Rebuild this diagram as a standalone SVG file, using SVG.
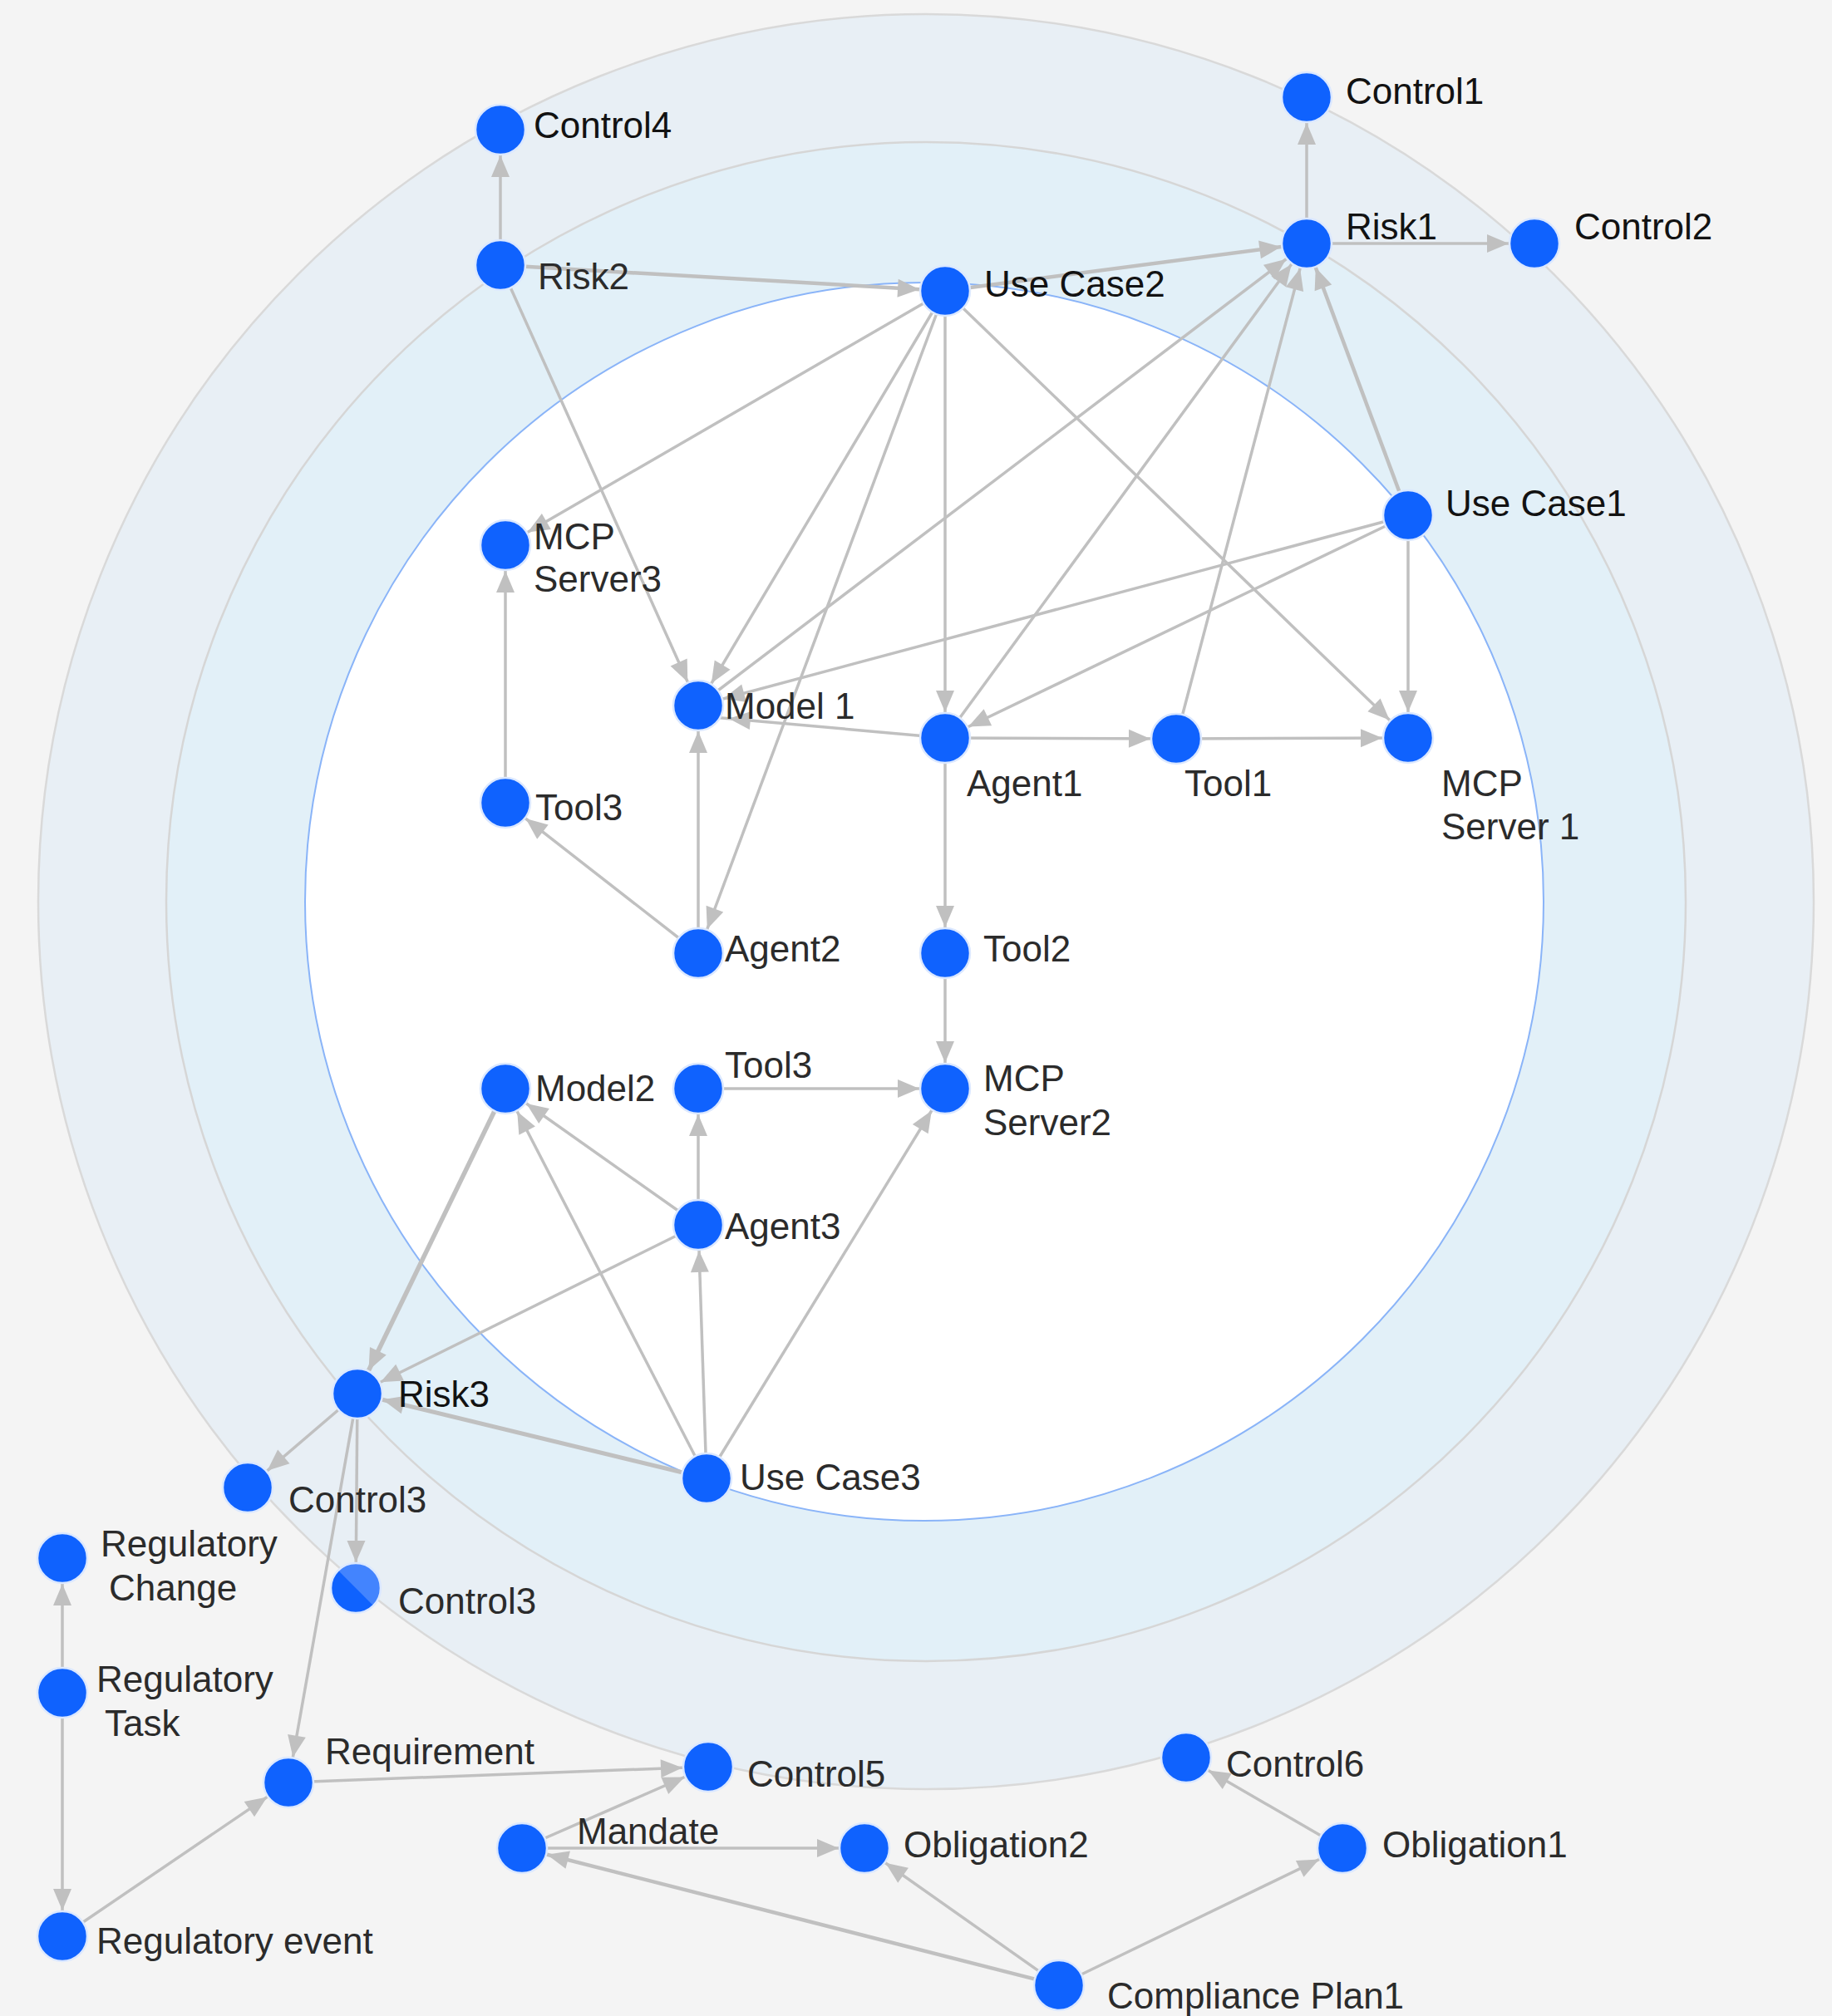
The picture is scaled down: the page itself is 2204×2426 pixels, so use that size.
<svg xmlns="http://www.w3.org/2000/svg" width="2204" height="2426" viewBox="0 0 2204 2426">
<style>
.n{fill:#0f62fe;stroke:#dbe8ff;stroke-width:2.5}
.t{font-family:"Liberation Sans",Arial,sans-serif;font-size:44px;fill:#2b2b2b}
.d{fill:#121212}
.e line{stroke:#c0c0c0;stroke-width:3.5;marker-end:url(#ah)}
</style>
<defs>
<marker id="ah" markerUnits="userSpaceOnUse" markerWidth="30" markerHeight="24" refX="57" refY="11" orient="auto" overflow="visible">
<path d="M0,0 L26,11 L0,22 Z" fill="#c0c0c0"/>
</marker>
</defs>
<rect width="2204" height="2426" fill="#f4f4f4"/>
<g id="rings">
<circle cx="1114" cy="1085" r="1068" fill="#e8eff5" stroke="#d9d9d9" stroke-width="2.5"/>
<circle cx="1114" cy="1085" r="914" fill="#e2f0f8" stroke="#d6d6d6" stroke-width="2.5"/>
<circle cx="1112" cy="1085" r="745" fill="#ffffff" stroke="#8ab4f8" stroke-width="2"/>
</g>
<g id="connectors" class="e">
<line x1="602" y1="319" x2="602" y2="156"/>
<line x1="602" y1="319" x2="1137" y2="350" style="stroke-width:4.5"/>
<line x1="602" y1="319" x2="840" y2="849"/>
<line x1="1137" y1="350" x2="1572" y2="293" style="stroke-width:4.5"/>
<line x1="1572" y1="293" x2="1572" y2="117"/>
<line x1="1572" y1="293" x2="1846" y2="293"/>
<line x1="1137" y1="350" x2="608" y2="656"/>
<line x1="1137" y1="350" x2="840" y2="849"/>
<line x1="1137" y1="350" x2="840" y2="1147"/>
<line x1="1137" y1="350" x2="1137" y2="888"/>
<line x1="1137" y1="350" x2="1694" y2="888"/>
<line x1="840" y1="849" x2="1572" y2="293"/>
<line x1="1694" y1="620" x2="840" y2="849"/>
<line x1="1694" y1="620" x2="1137" y2="888"/>
<line x1="1694" y1="620" x2="1694" y2="888"/>
<line x1="1694" y1="620" x2="1572" y2="293" style="stroke-width:4.5"/>
<line x1="1137" y1="888" x2="1572" y2="293"/>
<line x1="1415" y1="889" x2="1572" y2="293"/>
<line x1="1137" y1="888" x2="846" y2="862"/>
<line x1="1137" y1="888" x2="1415" y2="889"/>
<line x1="1415" y1="889" x2="1694" y2="888"/>
<line x1="1137" y1="888" x2="1137" y2="1147"/>
<line x1="1137" y1="1147" x2="1137" y2="1310"/>
<line x1="608" y1="966" x2="608" y2="656"/>
<line x1="840" y1="1147" x2="608" y2="966"/>
<line x1="840" y1="1147" x2="840" y2="849"/>
<line x1="840" y1="1310" x2="1137" y2="1310"/>
<line x1="840" y1="1474" x2="840" y2="1310"/>
<line x1="840" y1="1474" x2="608" y2="1310"/>
<line x1="840" y1="1474" x2="430" y2="1677"/>
<line x1="608" y1="1310" x2="430" y2="1677" style="stroke-width:5.5"/>
<line x1="850" y1="1779" x2="608" y2="1310"/>
<line x1="850" y1="1779" x2="840" y2="1474"/>
<line x1="850" y1="1779" x2="1137" y2="1310"/>
<line x1="850" y1="1779" x2="430" y2="1677" style="stroke-width:5"/>
<line x1="430" y1="1677" x2="298" y2="1790"/>
<line x1="430" y1="1677" x2="428" y2="1911"/>
<line x1="430" y1="1677" x2="347" y2="2145"/>
<line x1="75" y1="2037" x2="75" y2="1875"/>
<line x1="75" y1="2037" x2="75" y2="2330"/>
<line x1="75" y1="2330" x2="347" y2="2145"/>
<line x1="347" y1="2145" x2="852" y2="2126"/>
<line x1="628" y1="2224" x2="852" y2="2126"/>
<line x1="628" y1="2224" x2="1040" y2="2224"/>
<line x1="1274" y1="2389" x2="628" y2="2224" style="stroke-width:4.5"/>
<line x1="1274" y1="2389" x2="1040" y2="2224"/>
<line x1="1274" y1="2389" x2="1615" y2="2224"/>
<line x1="1615" y1="2224" x2="1427" y2="2115"/>
</g>
<g id="control4"><circle class="n" cx="602" cy="156" r="30"/><text class="t d" x="642" y="166">Control4</text></g>
<g id="risk2"><circle class="n" cx="602" cy="319" r="30"/><text class="t" x="647" y="348">Risk2</text></g>
<g id="usecase2"><circle class="n" cx="1137" cy="350" r="30"/><text class="t d" x="1184" y="357">Use Case2</text></g>
<g id="control1"><circle class="n" cx="1572" cy="117" r="30"/><text class="t d" x="1619" y="125">Control1</text></g>
<g id="risk1"><circle class="n" cx="1572" cy="293" r="30"/><text class="t d" x="1619" y="288">Risk1</text></g>
<g id="control2"><circle class="n" cx="1846" cy="293" r="30"/><text class="t d" x="1894" y="288">Control2</text></g>
<g id="usecase1"><circle class="n" cx="1694" cy="620" r="30"/><text class="t d" x="1739" y="621">Use Case1</text></g>
<g id="mcpserver3"><circle class="n" cx="608" cy="656" r="30"/><text class="t" x="642" y="661">MCP</text><text class="t" x="642" y="712">Server3</text></g>
<g id="model1"><circle class="n" cx="840" cy="849" r="30"/><text class="t" x="872" y="865">Model 1</text></g>
<g id="agent1"><circle class="n" cx="1137" cy="888" r="30"/><text class="t" x="1163" y="958">Agent1</text></g>
<g id="tool1"><circle class="n" cx="1415" cy="889" r="30"/><text class="t" x="1425" y="958">Tool1</text></g>
<g id="mcpserver1"><circle class="n" cx="1694" cy="888" r="30"/><text class="t" x="1734" y="958">MCP</text><text class="t" x="1734" y="1010">Server 1</text></g>
<g id="tool3a"><circle class="n" cx="608" cy="966" r="30"/><text class="t" x="644" y="987">Tool3</text></g>
<g id="agent2"><circle class="n" cx="840" cy="1147" r="30"/><text class="t" x="872" y="1157">Agent2</text></g>
<g id="tool2"><circle class="n" cx="1137" cy="1147" r="30"/><text class="t" x="1183" y="1157">Tool2</text></g>
<g id="model2"><circle class="n" cx="608" cy="1310" r="30"/><text class="t" x="644" y="1325">Model2</text></g>
<g id="tool3b"><circle class="n" cx="840" cy="1310" r="30"/><text class="t" x="872" y="1297">Tool3</text></g>
<g id="mcpserver2"><circle class="n" cx="1137" cy="1310" r="30"/><text class="t" x="1183" y="1313">MCP</text><text class="t" x="1183" y="1366">Server2</text></g>
<g id="agent3"><circle class="n" cx="840" cy="1474" r="30"/><text class="t" x="872" y="1491">Agent3</text></g>
<g id="risk3"><circle class="n" cx="430" cy="1677" r="30"/><text class="t d" x="479" y="1693">Risk3</text></g>
<g id="usecase3"><circle class="n" cx="850" cy="1779" r="30"/><text class="t" x="890" y="1793">Use Case3</text></g>
<g id="control3a"><circle class="n" cx="298" cy="1790" r="30"/><text class="t" x="347" y="1820">Control3</text></g>
<g id="control3b"><circle class="n" cx="428" cy="1911" r="30"/><path d="M406.8,1889.8 A30,30 0 0 1 449.2,1932.2 Z" fill="#ffffff" fill-opacity="0.22"/><text class="t" x="479" y="1942">Control3</text></g>
<g id="regulatorychange"><circle class="n" cx="75" cy="1875" r="30"/><text class="t" x="121" y="1873">Regulatory</text><text class="t" x="131" y="1926">Change</text></g>
<g id="regulatorytask"><circle class="n" cx="75" cy="2037" r="30"/><text class="t" x="116" y="2036">Regulatory</text><text class="t" x="126" y="2089">Task</text></g>
<g id="regulatoryevent"><circle class="n" cx="75" cy="2330" r="30"/><text class="t" x="116" y="2351">Regulatory event</text></g>
<g id="requirement"><circle class="n" cx="347" cy="2145" r="30"/><text class="t" x="391" y="2123">Requirement</text></g>
<g id="control5"><circle class="n" cx="852" cy="2126" r="30"/><text class="t" x="899" y="2150">Control5</text></g>
<g id="mandate"><circle class="n" cx="628" cy="2224" r="30"/><text class="t" x="694" y="2219">Mandate</text></g>
<g id="obligation2"><circle class="n" cx="1040" cy="2224" r="30"/><text class="t" x="1087" y="2235">Obligation2</text></g>
<g id="control6"><circle class="n" cx="1427" cy="2115" r="30"/><text class="t" x="1475" y="2138">Control6</text></g>
<g id="obligation1"><circle class="n" cx="1615" cy="2224" r="30"/><text class="t" x="1663" y="2235">Obligation1</text></g>
<g id="complianceplan1"><circle class="n" cx="1274" cy="2389" r="30"/><text class="t" x="1332" y="2417">Compliance Plan1</text></g>
</svg>
